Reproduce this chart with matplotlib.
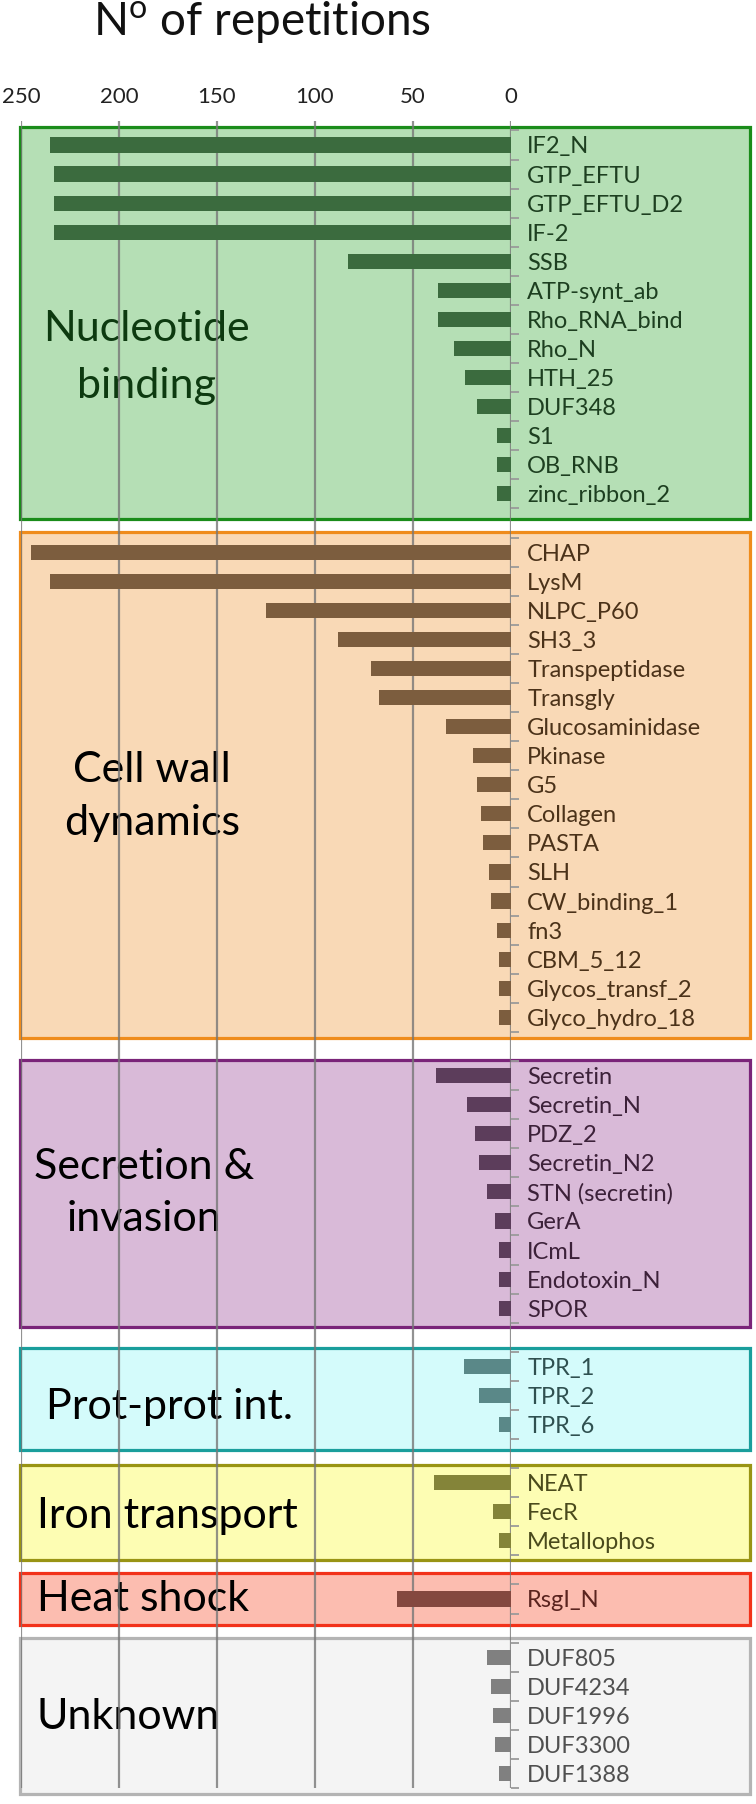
import numpy as np
import matplotlib
matplotlib.use("Agg")
import matplotlib.pyplot as plt
import matplotlib.transforms as mtransforms
from matplotlib.patches import Rectangle

plt.rcParams['font.family'] = ['Lato', 'DejaVu Sans']
plt.rcParams['mathtext.fontset'] = 'custom'
plt.rcParams['mathtext.rm'] = 'Lato'

# Data
group_titles = ["Nucleotide\nbinding", "Cell wall\ndynamics", "Secretion &\ninvasion",
                "Prot-prot int.", "Iron transport", "Heat shock", "Unknown"]

nucleotide_names = ["IF2_N", "GTP_EFTU", "GTP_EFTU_D2", "IF-2", "SSB", "ATP-synt_ab",
                    "Rho_RNA_bind", "Rho_N", "HTH_25", "DUF348", "S1", "OB_RNB", "zinc_ribbon_2"]
nucleotide_counts = [235, 233, 233, 233, 83, 37, 37, 29, 23, 17, 7, 7, 7]

cellwall_names = ["CHAP", "LysM", "NLPC_P60", "SH3_3", "Transpeptidase", "Transgly",
                  "Glucosaminidase", "Pkinase", "G5", "Collagen", "PASTA", "SLH",
                  "CW_binding_1", "fn3", "CBM_5_12", "Glycos_transf_2", "Glyco_hydro_18"]
cellwall_counts = [245, 235, 125, 88, 71, 67, 33, 19, 17, 15, 14, 11, 10, 7, 6, 6, 6]

secretion_names = ["Secretin", "Secretin_N", "PDZ_2", "Secretin_N2", "STN (secretin)",
                   "GerA", "ICmL", "Endotoxin_N", "SPOR"]
secretion_counts = [38, 22, 18, 16, 12, 8, 6, 6, 6]

protprot_names = ["TPR_1", "TPR_2", "TPR_6"]
protprot_counts = [24, 16, 6]

iron_names = ["NEAT", "FecR", "Metallophos"]
iron_counts = [39, 9, 6]

heat_names = ["RsgI_N"]
heat_counts = [58]

unknown_names = ["DUF805", "DUF4234", "DUF1996", "DUF3300", "DUF1388"]
unknown_counts = [12, 10, 9, 8, 6]

x_ticks = [250, 200, 150, 100, 50, 0]

groups = [(nucleotide_names, nucleotide_counts), (cellwall_names, cellwall_counts),
          (secretion_names, secretion_counts), (protprot_names, protprot_counts),
          (iron_names, iron_counts), (heat_names, heat_counts),
          (unknown_names, unknown_counts)]

# styles per group: box fill, box edge, bar colour, label colour
fills = ["#b5dfb5", "#f9d9b6", "#d9bad8", "#d4fbfb", "#fdfdb3", "#fcbdb0", "#f4f4f4"]
edges = ["#1a8c1a", "#ef8c1c", "#7a2479", "#1a9e9c", "#999414", "#f2321a", "#b4b4b4"]
bar_cols = ["#3b6b3e", "#7c5d3e", "#5c3d5b", "#5a8888", "#848439", "#84483f", "#808080"]
txt_cols = ["#1d3f20", "#4b3219", "#3c2139", "#2f5050", "#4a4a1c", "#5a241f", "#4f4f4f"]
title_cols = ["#0d3a10", "black", "black", "black", "black", "black", "black"]
box_pad = [(0.62, 0.85), (0.7, 0.72), (0.53, 0.65), (0.64, 0.87), (0.62, 0.65), (0.9, 0.9), (0.67, 0.72)]
# group title placement: x (data), y offset from group centre (slots), alignment, line spacing
title_pos = [(186, 1.3, 'center', 1.6), (183, 0.4, 'center', 1.5), (187, 0.05, 'center', 1.45),
             (237, 0.4, 'left', 1.2), (242, 0.15, 'left', 1.2), (242, 0.0, 'left', 1.2),
             (242, 0.05, 'left', 1.2)]

fig = plt.figure(figsize=(7.56, 18.04), dpi=100)
W, H = 756, 1804
ax_left, ax_right, ax_top, ax_bot = 21, 510.5, 121, 1788
ax = fig.add_axes([ax_left / W, (H - ax_bot) / H, (ax_right - ax_left) / W, (ax_bot - ax_top) / H])

# slot positions with one empty slot between groups
positions = []
slot = 0
for names, counts in groups:
    positions.append(np.arange(slot, slot + len(counts)))
    slot += len(counts) + 1
n_slots = slot - 1

px_per_slot = (1775 - 145) / (n_slots - 1)
ax.set_ylim((ax_bot - 145) / px_per_slot, (ax_top - 145) / px_per_slot)
ax.set_xlim(250, 0)

box_trans = mtransforms.blended_transform_factory(ax.transAxes, ax.transData)
box_right = (750 - ax_left) / (ax_right - ax_left)

all_pos, all_names, all_cols = [], [], []
for i, (names, counts) in enumerate(groups):
    pos = positions[i]
    top = pos[0] - box_pad[i][0]
    bot = pos[-1] + box_pad[i][1]
    ax.add_patch(Rectangle((-0.002, top), box_right + 0.002, bot - top, transform=box_trans,
                           facecolor=fills[i], edgecolor=edges[i], lw=2.3,
                           zorder=0.5, clip_on=False))
    ax.barh(pos, counts, height=0.52, color=bar_cols[i], zorder=3)
    tx, ty, ha, ls = title_pos[i]
    ax.text(tx, pos.mean() + ty, group_titles[i], ha=ha, va='center', fontsize=31,
            color=title_cols[i], linespacing=ls, multialignment='center', zorder=1)
    all_pos += list(pos)
    all_names += names
    all_cols += [txt_cols[i]] * len(names)

# grid lines drawn over the boxes, under the bars
for xv in x_ticks:
    ax.axvline(xv, color='#777777', lw=1.6, alpha=0.8, zorder=2)

for s in ['left', 'right', 'top', 'bottom']:
    ax.spines[s].set_visible(False)

ax.xaxis.tick_top()
ax.set_xticks(x_ticks)
ax.set_xticklabels([str(v) for v in x_ticks])
ax.tick_params(axis='x', length=0, pad=10, labelsize=16, colors='#222222')

ax.yaxis.tick_right()
ax.set_yticks(all_pos)
ax.set_yticklabels(all_names)
ax.set_yticks(np.arange(-0.5, n_slots + 0.5, 1.0), minor=True)
ax.tick_params(axis='y', which='major', length=0, pad=12, labelsize=17)
ax.tick_params(axis='y', which='minor', length=5.5, width=1.3, color='#9a9a9a', direction='out')
for lab, c in zip(ax.get_yticklabels(), all_cols):
    lab.set_color(c)

fig.text(262 / W, 1 - 36 / H, r"N$^{\mathrm{o}}$ of repetitions", ha='center', va='baseline',
         fontsize=33, color='#111111')

fig.savefig("out.png", dpi=100)
